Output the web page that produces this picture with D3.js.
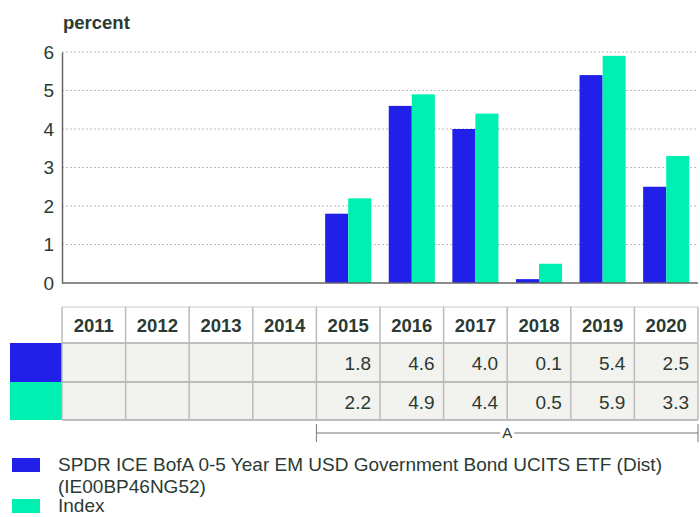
<!DOCTYPE html>
<html>
<head>
<meta charset="utf-8">
<script src="https://cdn.jsdelivr.net/npm/d3@7"></script>
<style>
  body { margin: 0; background: #fff; }
  svg { display: block; font-family: "Liberation Sans", Arial, sans-serif; }
</style>
</head>
<body>
<svg id="chart"></svg>
<script>
// chart data
const years = ['2011', '2012', '2013', '2014', '2015', '2016', '2017', '2018', '2019', '2020'];
const fundValues = [null, null, null, null, 1.8, 4.6, 4.0, 0.1, 5.4, 2.5];
const indexValues = [null, null, null, null, 2.2, 4.9, 4.4, 0.5, 5.9, 3.3];
const seriesNames = ['SPDR ICE BofA 0-5 Year EM USD Government Bond UCITS ETF (Dist) (IE00BP46NG52)', 'Index'];
const yTicks = [0, 1, 2, 3, 4, 5, 6];
const bracketFrom = '2015';
const bracketTo = '2020';
const bracketLabel = 'A';

function makeChart() {
    let w = 700;
    let h = 517;
    let textColor = '#2b3a33';
    let colors = ['#2020e8', '#00f0b2'];

    let svg = d3.select('#chart')
        .attr('width', w)
        .attr('height', h);

    let series = [fundValues, indexValues];

    let x0 = d3.scaleBand()
        .domain(years)
        .range([62, 698]);

    let x1 = d3.scaleBand()
        .domain([0, 1])
        .range([0, x0.bandwidth()])
        .paddingOuter(0.38);

    let yScale = d3.scaleLinear()
        .domain([0, 6])
        .range([283, 52]);

    // title
    svg.append('text')
        .attr('x', 63)
        .attr('y', 29)
        .attr('font-size', '18.5px')
        .attr('font-weight', 'bold')
        .attr('fill', textColor)
        .text('percent');

    // grid lines
    svg.append('g')
        .selectAll('line')
        .data(yTicks.filter(d => d > 0))
        .enter()
        .append('line')
        .attr('x1', 62)
        .attr('x2', 698)
        .attr('y1', d => yScale(d))
        .attr('y2', d => yScale(d))
        .attr('stroke', '#bbb')
        .attr('stroke-dasharray', '2,2');

    // bars
    series.forEach((vals, i) => {
        svg.append('g')
            .selectAll('rect')
            .data(years.map((y, j) => ({ year: y, value: vals[j] })).filter(d => d.value !== null))
            .enter()
            .append('rect')
            .attr('x', d => x0(d.year) + x1(i))
            .attr('width', x1.bandwidth())
            .attr('y', d => yScale(d.value))
            .attr('height', d => yScale(0) - yScale(d.value))
            .attr('fill', colors[i]);
    });

    // y axis
    let yAxis = svg.append('g')
        .attr('transform', 'translate(62,0)')
        .call(d3.axisLeft(yScale).tickValues(yTicks).tickFormat(d3.format('d')).tickSize(0).tickPadding(8));
    yAxis.select('.domain').attr('stroke', '#666').attr('stroke-width', 1.5);
    yAxis.selectAll('text')
        .attr('font-size', '19px')
        .attr('font-family', '"Liberation Sans", Arial, sans-serif')
        .attr('fill', textColor);

    // baseline
    svg.append('line')
        .attr('x1', 62)
        .attr('x2', 698)
        .attr('y1', yScale(0))
        .attr('y2', yScale(0))
        .attr('stroke', '#666')
        .attr('stroke-width', 1.5);

    // table
    let rowTop = [307, 343, 382];
    let rowBottom = [343, 382, 420];
    let table = svg.append('g');

    // value cell backgrounds
    table.append('rect')
        .attr('x', 62)
        .attr('y', rowTop[1])
        .attr('width', 636)
        .attr('height', rowBottom[2] - rowTop[1])
        .attr('fill', '#f2f2ee');

    // swatches in table
    series.forEach((vals, i) => {
        table.append('rect')
            .attr('x', 10)
            .attr('y', rowTop[i + 1])
            .attr('width', 52)
            .attr('height', rowBottom[i + 1] - rowTop[i + 1])
            .attr('fill', colors[i]);
    });

    // borders
    table.append('line')
        .attr('x1', 62).attr('x2', 698)
        .attr('y1', rowTop[0]).attr('y2', rowTop[0])
        .attr('stroke', '#ddd').attr('stroke-width', 1.5);
    rowBottom.forEach(yy => {
        table.append('line')
            .attr('x1', 62).attr('x2', 698)
            .attr('y1', yy).attr('y2', yy)
            .attr('stroke', '#aaa').attr('stroke-width', 1.5);
    });
    years.forEach(yr => {
        table.append('line')
            .attr('x1', x0(yr)).attr('x2', x0(yr))
            .attr('y1', rowTop[0]).attr('y2', rowBottom[2])
            .attr('stroke', '#bbb').attr('stroke-width', 1.5);
    });
    table.append('line')
        .attr('x1', 698).attr('x2', 698)
        .attr('y1', rowTop[0]).attr('y2', rowBottom[2])
        .attr('stroke', '#bbb').attr('stroke-width', 1.5);

    // header text
    table.selectAll('text.head')
        .data(years)
        .enter()
        .append('text')
        .attr('class', 'head')
        .attr('x', d => x0(d) + x0.bandwidth() / 2)
        .attr('y', (rowTop[0] + rowBottom[0]) / 2 + 1)
        .attr('dy', '0.35em')
        .attr('text-anchor', 'middle')
        .attr('font-size', '18.5px')
        .attr('font-weight', 'bold')
        .attr('fill', textColor)
        .text(d => d);

    // values text
    series.forEach((vals, i) => {
        table.append('g')
            .selectAll('text')
            .data(years.map((y, j) => ({ year: y, value: vals[j] })).filter(d => d.value !== null))
            .enter()
            .append('text')
            .attr('x', d => x0(d.year) + x0.bandwidth() - 9)
            .attr('y', (rowTop[i + 1] + rowBottom[i + 1]) / 2 + 1)
            .attr('dy', '0.35em')
            .attr('text-anchor', 'end')
            .attr('font-size', '19px')
            .attr('fill', textColor)
            .text(d => d.value.toFixed(1));
    });

    // bracket
    let bx1 = x0(bracketFrom);
    let bx2 = x0(bracketTo) + x0.bandwidth();
    let by = 433;
    let bracket = svg.append('g').attr('stroke', '#777').attr('stroke-width', 1);
    bracket.append('line').attr('x1', bx1).attr('x2', bx2).attr('y1', by).attr('y2', by);
    bracket.append('line').attr('x1', bx1).attr('x2', bx1).attr('y1', by - 9).attr('y2', by + 9);
    bracket.append('line').attr('x1', bx2).attr('x2', bx2).attr('y1', by - 9).attr('y2', by + 9);
    svg.append('rect')
        .attr('x', (bx1 + bx2) / 2 - 7)
        .attr('y', by - 7)
        .attr('width', 14)
        .attr('height', 14)
        .attr('fill', '#fff');
    svg.append('text')
        .attr('x', (bx1 + bx2) / 2)
        .attr('y', by)
        .attr('dy', '0.35em')
        .attr('text-anchor', 'middle')
        .attr('font-size', '15px')
        .attr('fill', textColor)
        .text(bracketLabel);

    // legend
    let legendY = [458, 499];
    let lineGap = [21.5, 21.5];
    seriesNames.forEach((name, i) => {
        svg.append('rect')
            .attr('x', 12)
            .attr('y', legendY[i])
            .attr('width', 28)
            .attr('height', 14)
            .attr('fill', colors[i]);

        let t = svg.append('text')
            .attr('x', 58)
            .attr('y', legendY[i] + 13)
            .attr('font-size', '19px')
            .attr('fill', textColor);

        // wrap long names
        let words = name.split(' ');
        let line = [];
        let tspan = t.append('tspan').attr('x', 58).attr('dy', 0);
        words.forEach(word => {
            line.push(word);
            tspan.text(line.join(' '));
            if (tspan.node().getComputedTextLength() > 630 && line.length > 1) {
                line.pop();
                tspan.text(line.join(' '));
                line = [word];
                tspan = t.append('tspan').attr('x', 58).attr('dy', lineGap[i]).text(word);
            }
        });
    });
}

window.onload = function() {
    makeChart();
};
</script>
</body>
</html>
